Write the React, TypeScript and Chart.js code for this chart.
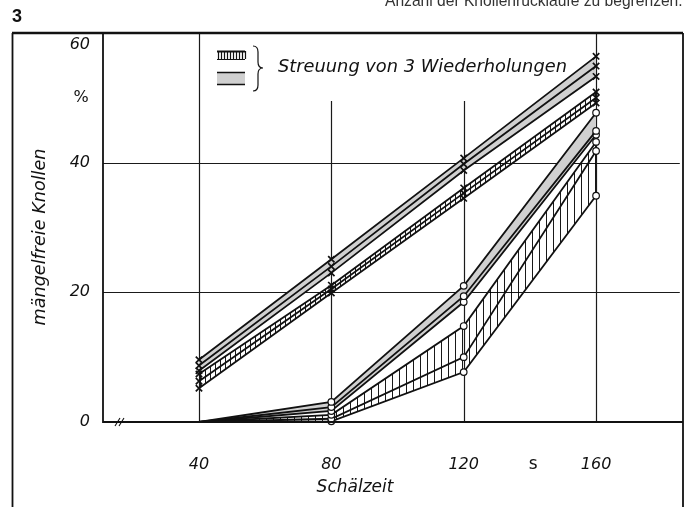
import React, { useEffect, useRef } from 'react';
import { Chart, registerables } from 'chart.js';
Chart.register(...registerables);

// Schälzeit (s)
const times = [40, 80, 120, 160];
// group A: grey band, x markers (3 replicates)
const a1 = [9.6, 25.1, 40.7, 56.4];
const a2 = [8.7, 24.0, 39.8, 54.9];
const a3 = [7.9, 23.0, 38.8, 53.3];
// group B: hatched band, x markers
const b1 = [7.4, 21.1, 36.1, 50.9];
const b2 = [6.3, 20.5, 35.3, 50.0];
const b3 = [5.2, 19.9, 34.5, 49.2];
// group C: grey band, circle markers
const c1 = [0, 3.1, 21.0, 47.7];
const c2 = [0, 2.3, 19.4, 44.9];
const c3 = [0, 1.7, 18.5, 44.3];
// group D: hatched band, circle markers
const d1 = [0, 1.1, 14.8, 43.2];
const d2 = [0, 0.5, 10.0, 41.8];
const d3 = [0, 0.1, 7.7, 34.9];

const xTicks = [40, 80, 120, 160];
const yTicks = [0, 20, 40, 60];
const xUnit = { label: 's', at: 141 };
const yUnit = { label: '%', at: 50 };
const fullGridX = [40, 160];
const partGridX = [80, 120];
const partGridTop = 49.5;
const gridY = [20, 40];

const FAM = '"DejaVu Sans", sans-serif';

function makePattern(spacing: number) {
  const c = document.createElement('canvas');
  c.width = spacing;
  c.height = 8;
  const g = c.getContext('2d')!;
  g.fillStyle = 'rgba(0,0,0,0.9)';
  g.fillRect(0, 0, 1, 8);
  return g.createPattern(c, 'repeat')!;
}

function fitSize(ctx: CanvasRenderingContext2D, text: string, width: number, style: string, fam: string) {
  ctx.font = `${style} 20px ${fam}`;
  const w = ctx.measureText(text).width;
  return (20 * width) / w;
}

const decor = {
  id: 'decor',
  beforeDraw(chart: any) {
    const ctx: CanvasRenderingContext2D = chart.ctx;
    const { x, y } = chart.scales;
    const area = chart.chartArea;
    ctx.save();
    ctx.fillStyle = '#fff';
    ctx.fillRect(0, 0, chart.width, chart.height);
    ctx.strokeStyle = '#1a1a1a';
    ctx.lineWidth = 1.2;
    gridY.forEach((v) => {
      const py = Math.round(y.getPixelForValue(v)) + 0.5;
      ctx.beginPath();
      ctx.moveTo(area.left, py);
      ctx.lineTo(area.right + 1, py);
      ctx.stroke();
    });
    fullGridX.forEach((v) => {
      const px = Math.round(x.getPixelForValue(v)) + 0.5;
      ctx.beginPath();
      ctx.moveTo(px, area.top);
      ctx.lineTo(px, area.bottom);
      ctx.stroke();
    });
    partGridX.forEach((v) => {
      const px = Math.round(x.getPixelForValue(v)) + 0.5;
      ctx.beginPath();
      ctx.moveTo(px, y.getPixelForValue(partGridTop));
      ctx.lineTo(px, area.bottom);
      ctx.stroke();
    });
    ctx.restore();
  },
  afterDraw(chart: any) {
    const ctx: CanvasRenderingContext2D = chart.ctx;
    const { x, y } = chart.scales;
    const area = chart.chartArea;
    ctx.save();
    ctx.strokeStyle = '#111';
    ctx.fillStyle = '#111';
    // outer frame
    ctx.lineWidth = 2.4;
    ctx.beginPath();
    ctx.moveTo(12, 33);
    ctx.lineTo(683, 33);
    ctx.stroke();
    ctx.lineWidth = 1.8;
    ctx.beginPath();
    ctx.moveTo(12.5, 33);
    ctx.lineTo(12.5, 507);
    ctx.moveTo(683, 33);
    ctx.lineTo(683, 507);
    ctx.stroke();
    // axes
    ctx.lineWidth = 1.8;
    ctx.beginPath();
    ctx.moveTo(area.left, area.top);
    ctx.lineTo(area.left, area.bottom);
    ctx.lineTo(683, area.bottom);
    ctx.stroke();
    // axis break
    ctx.lineWidth = 1.1;
    ctx.beginPath();
    ctx.moveTo(115, area.bottom + 4);
    ctx.lineTo(120, area.bottom - 4);
    ctx.moveTo(119, area.bottom + 4);
    ctx.lineTo(124, area.bottom - 4);
    ctx.stroke();

    // y tick labels
    ctx.font = `italic 16px ${FAM}`;
    ctx.textAlign = 'right';
    ctx.textBaseline = 'middle';
    yTicks.forEach((v) => {
      let py = y.getPixelForValue(v);
      if (v === 60) py += 12;
      ctx.fillText(String(v), 90, py);
    });
    ctx.font = `16px ${FAM}`;
    ctx.textAlign = 'center';
    ctx.fillText(yUnit.label, 81, y.getPixelForValue(yUnit.at));
    // x tick labels
    ctx.font = `italic 16px ${FAM}`;
    xTicks.forEach((v) => {
      ctx.fillText(String(v), x.getPixelForValue(v), 465);
    });
    ctx.font = `17px ${FAM}`;
    ctx.fillText(xUnit.label, x.getPixelForValue(xUnit.at), 465);
    // x title
    ctx.font = `italic 17px ${FAM}`;
    ctx.fillText('Schälzeit', 355, 488);
    // y title
    ctx.save();
    ctx.translate(40, 237);
    ctx.rotate(-Math.PI / 2);
    const ys = fitSize(ctx, 'mängelfreie Knollen', 177, 'italic', FAM);
    ctx.font = `italic ${ys}px ${FAM}`;
    ctx.fillText('mängelfreie Knollen', 0, 0);
    ctx.restore();

    // legend
    ctx.lineWidth = 2;
    ctx.beginPath();
    ctx.moveTo(217, 51.5);
    ctx.lineTo(245, 51.5);
    ctx.stroke();
    ctx.lineWidth = 1.2;
    ctx.beginPath();
    ctx.moveTo(217, 59.5);
    ctx.lineTo(245, 59.5);
    for (let px = 218; px <= 245; px += 3) {
      ctx.moveTo(px + 0.5, 51);
      ctx.lineTo(px + 0.5, 59);
    }
    ctx.stroke();
    ctx.fillStyle = '#d0d0d0';
    ctx.fillRect(217, 72, 28, 12);
    ctx.fillStyle = '#111';
    ctx.lineWidth = 1.5;
    ctx.beginPath();
    ctx.moveTo(217, 72.5);
    ctx.lineTo(245, 72.5);
    ctx.moveTo(217, 84.5);
    ctx.lineTo(245, 84.5);
    ctx.stroke();
    // brace
    ctx.lineWidth = 1.2;
    ctx.beginPath();
    ctx.moveTo(253, 46);
    ctx.quadraticCurveTo(258, 46, 258, 52);
    ctx.lineTo(258, 62);
    ctx.quadraticCurveTo(258, 68, 263, 68);
    ctx.quadraticCurveTo(258, 68, 258, 74);
    ctx.lineTo(258, 85);
    ctx.quadraticCurveTo(258, 91, 253, 91);
    ctx.stroke();
    const ls = fitSize(ctx, 'Streuung von 3 Wiederholungen', 289, 'italic', FAM);
    ctx.font = `italic ${ls}px ${FAM}`;
    ctx.textAlign = 'left';
    ctx.fillText('Streuung von 3 Wiederholungen', 278, 67);

    // figure number and page text
    ctx.font = `bold 18px "Liberation Sans", sans-serif`;
    ctx.textBaseline = 'alphabetic';
    ctx.fillText('3', 12, 22);
    const ts = fitSize(ctx, 'Anzahl der Knollenrückläufe zu begrenzen.', 298, '', '"Liberation Sans", sans-serif');
    ctx.font = `${ts}px "Liberation Sans", sans-serif`;
    ctx.fillStyle = '#333';
    ctx.fillText('Anzahl der Knollenrückläufe zu begrenzen.', 385, 6);
    ctx.restore();
  },
};

export default function App() {
  const ref = useRef<HTMLCanvasElement>(null);
  useEffect(() => {
    const canvas = ref.current!;
    const gray = '#d0d0d0';
    const groups = [
      { lines: [a1, a2, a3], bg: gray as any, style: 'crossRot', r: 4.5 },
      { lines: [b1, b2, b3], bg: makePattern(5) as any, style: 'crossRot', r: 4.5 },
      { lines: [c1, c2, c3], bg: gray as any, style: 'circle', r: 3.3 },
      { lines: [d1, d2, d3], bg: makePattern(7) as any, style: 'circle', r: 3.3 },
    ];
    const datasets: any[] = [];
    groups.forEach((g) => {
      g.lines.forEach((vals, k) => {
        datasets.push({
          data: times.map((t, i) => ({ x: t, y: vals[i] })),
          borderColor: '#111',
          borderWidth: 1.8,
          backgroundColor: g.bg,
          fill: k === 0 ? '+2' : false,
          tension: 0,
          clip: false,
          pointStyle: g.style,
          pointRadius: vals.map((v, i) => (g.style === 'circle' && i === 0 ? 0 : g.r)),
          pointBorderColor: '#111',
          pointBackgroundColor: '#fff',
          pointBorderWidth: g.style === 'circle' ? 1.2 : 1.7,
        });
      });
    });
    const chart = new Chart(canvas, {
      type: 'line',
      data: { datasets },
      options: {
        animation: false,
        responsive: false,
        devicePixelRatio: 1,
        layout: { padding: { left: 103, top: 33, right: 3, bottom: 85 } },
        scales: {
          x: { type: 'linear', min: 11, max: 185, display: false },
          y: { type: 'linear', min: 0, max: 60, display: false },
        },
        plugins: {
          legend: { display: false },
          tooltip: { enabled: false },
          filler: { drawTime: 'beforeDatasetsDraw' } as any,
        },
      } as any,
      plugins: [decor],
    });
    return () => chart.destroy();
  }, []);
  return (
    <div style={{ position: 'absolute', left: 0, top: 0, width: 685, height: 507, background: '#fff' }}>
      <canvas ref={ref} width={685} height={507} style={{ display: 'block' }} />
    </div>
  );
}
